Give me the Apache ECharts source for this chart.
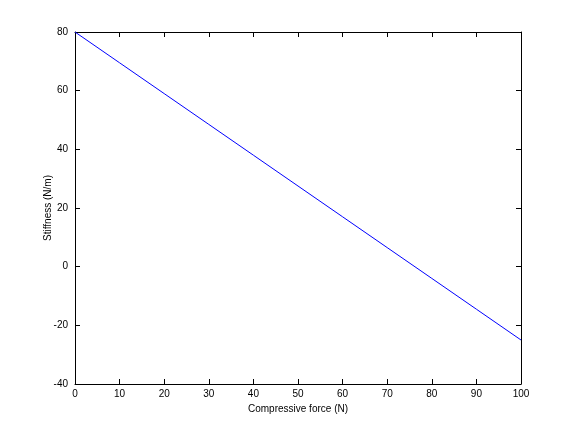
<!DOCTYPE html>
<html>
<head>
<meta charset="utf-8">
<script src="https://cdn.jsdelivr.net/npm/echarts@6/dist/echarts.min.js"></script>
<style>html,body{margin:0;padding:0;background:#fff}#c{width:576px;height:432px}</style>
</head>
<body>
<div id="c"></div>
<script>
var forceN = [0, 10, 20, 30, 40, 50, 60, 70, 80, 90, 100];
var stiffness = [80, 69.5, 59, 48.5, 38, 27.5, 17, 6.5, -4, -14.5, -25];
var xTicks = [0, 10, 20, 30, 40, 50, 60, 70, 80, 90, 100];
var yTicks = [-40, -20, 0, 20, 40, 60, 80];

var chart = echarts.init(document.getElementById('c'), null, {renderer: 'canvas'});
var font = 'Liberation Sans, Arial, Helvetica, sans-serif';
var axisCommon = {
  axisLine: {show: true, onZero: false, lineStyle: {color: '#000', width: 1}},
  axisTick: {show: true, inside: true, length: 5, lineStyle: {color: '#000'}},
  splitLine: {show: false}
};
var data = forceN.map(function (f, i) { return [f, stiffness[i]]; });
chart.setOption({
  animation: false,
  backgroundColor: '#fff',
  grid: {left: 75, right: 55, top: 32, bottom: 48},
  xAxis: [
    Object.assign({
      type: 'value', min: xTicks[0], max: xTicks[xTicks.length - 1], interval: 10, position: 'bottom',
      name: 'Compressive force (N)', nameLocation: 'middle', nameGap: 16,
      nameTextStyle: {fontFamily: font, fontSize: 10, color: '#000'},
      axisLabel: {fontFamily: font, fontSize: 10, color: '#000', margin: 5}
    }, axisCommon),
    Object.assign({
      type: 'value', min: xTicks[0], max: xTicks[xTicks.length - 1], interval: 10, position: 'top',
      axisLabel: {show: false}
    }, axisCommon)
  ],
  yAxis: [
    Object.assign({
      type: 'value', min: yTicks[0], max: yTicks[yTicks.length - 1], interval: 20, position: 'left',
      name: 'Stiffness (N/m)', nameLocation: 'middle', nameGap: 22, nameRotate: 90,
      nameMoveOverlap: false,
      nameTextStyle: {fontFamily: font, fontSize: 10, color: '#000'},
      axisLabel: {fontFamily: font, fontSize: 10, color: '#000', margin: 7}
    }, axisCommon),
    Object.assign({
      type: 'value', min: yTicks[0], max: yTicks[yTicks.length - 1], interval: 20, position: 'right',
      axisLabel: {show: false}
    }, axisCommon)
  ],
  series: [{
    type: 'line', data: data, xAxisIndex: 0, yAxisIndex: 0,
    showSymbol: false, symbol: 'none',
    lineStyle: {color: '#0000ff', width: 1}
  }]
});
</script>
</body>
</html>
